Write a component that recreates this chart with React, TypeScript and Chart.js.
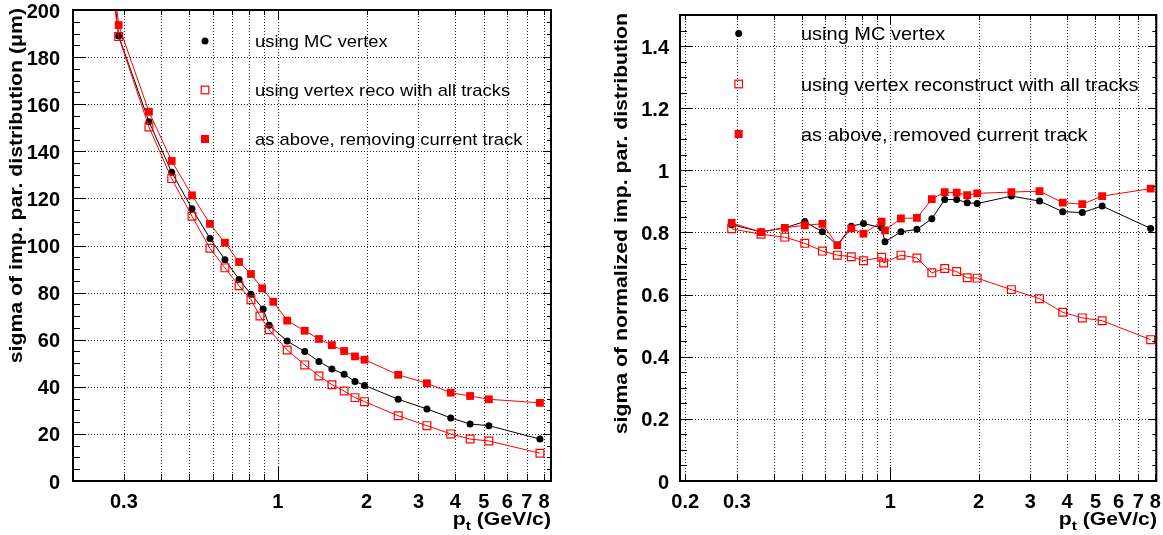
import { useEffect, useRef } from "react";
import { Chart, registerables } from "chart.js";

Chart.register(...registerables);

// ---------------- Left panel: sigma of imp. par. distribution (um) ----------------
const ptMC_L = [0.255, 0.288, 0.365, 0.436, 0.511, 0.588, 0.661, 0.738, 0.81, 0.891, 0.934, 1.075, 1.233, 1.378, 1.525, 1.678, 1.826, 1.968, 2.56, 3.204, 3.86, 4.49, 5.2, 7.75];
const ptReco_L = [0.255, 0.288, 0.365, 0.436, 0.511, 0.588, 0.661, 0.738, 0.81, 0.869, 0.934, 1.075, 1.233, 1.378, 1.525, 1.678, 1.826, 1.968, 2.56, 3.204, 3.86, 4.49, 5.2, 7.75];
const ptRemoved_L = [0.255, 0.288, 0.365, 0.436, 0.511, 0.588, 0.661, 0.738, 0.81, 0.884, 0.964, 1.075, 1.233, 1.378, 1.525, 1.678, 1.826, 1.968, 2.56, 3.204, 3.86, 4.49, 5.2, 7.75];
const sigmaMC = [247, 189.0, 152.6, 131.1, 115.6, 103.0, 94.0, 85.6, 79.3, 73.0, 66.1, 59.4, 55.0, 50.7, 47.6, 45.3, 42.3, 40.6, 34.7, 30.6, 26.8, 24.2, 23.5, 17.8];
const sigmaReco = [240, 188.7, 150.3, 128.4, 112.4, 98.8, 90.5, 82.9, 77.0, 70.1, 64.2, 55.6, 49.3, 44.6, 40.9, 38.2, 35.4, 33.7, 27.7, 23.5, 20.0, 17.8, 17.0, 11.8];
const sigmaRemoved = [253, 193.6, 156.8, 135.9, 121.3, 109.2, 101.2, 93.0, 87.9, 81.8, 76.1, 68.1, 63.8, 60.3, 57.7, 55.2, 52.9, 51.5, 45.1, 41.5, 37.5, 36.1, 34.7, 33.2];

// ---------------- Right panel: sigma of normalized imp. par. distribution ----------------
const ptMC_R = [0.288, 0.3625, 0.437, 0.511, 0.587, 0.66, 0.736, 0.81, 0.934, 0.959, 1.087, 1.232, 1.385, 1.532, 1.683, 1.828, 1.977, 2.585, 3.224, 3.868, 4.51, 5.27, 7.71];
const ptReco_R = [0.288, 0.3625, 0.437, 0.511, 0.587, 0.66, 0.736, 0.81, 0.934, 0.949, 1.087, 1.232, 1.385, 1.532, 1.683, 1.828, 1.977, 2.585, 3.224, 3.868, 4.51, 5.27, 7.71];
const ptRemoved_R = [0.288, 0.3625, 0.437, 0.511, 0.587, 0.66, 0.736, 0.81, 0.934, 0.959, 1.087, 1.232, 1.385, 1.532, 1.683, 1.828, 1.977, 2.585, 3.224, 3.868, 4.51, 5.27, 7.71];
const ratioMC = [0.825, 0.802, 0.815, 0.835, 0.802, 0.759, 0.82, 0.829, 0.815, 0.77, 0.802, 0.81, 0.844, 0.906, 0.906, 0.896, 0.893, 0.917, 0.901, 0.867, 0.864, 0.885, 0.813];
const ratioReco = [0.812, 0.794, 0.785, 0.765, 0.74, 0.727, 0.722, 0.709, 0.72, 0.702, 0.727, 0.718, 0.67, 0.684, 0.674, 0.654, 0.653, 0.616, 0.587, 0.543, 0.525, 0.516, 0.455];
const ratioRemoved = [0.831, 0.801, 0.815, 0.823, 0.828, 0.759, 0.813, 0.796, 0.835, 0.807, 0.845, 0.847, 0.907, 0.93, 0.928, 0.92, 0.926, 0.93, 0.933, 0.896, 0.891, 0.917, 0.941];

// ---------------- Axis ticks / labels ----------------
const xLabelsLeft = [0.3, 1, 2, 3, 4, 5, 6, 7, 8];
const xLabelsRight = [0.2, 0.3, 1, 2, 3, 4, 5, 6, 7, 8];
const xGridLeft = [0.3, 0.4, 0.5, 0.6, 0.7, 0.8, 0.9, 1, 2, 3, 4, 5, 6, 7, 8];
const xGridRight = [0.2, 0.3, 0.4, 0.5, 0.6, 0.7, 0.8, 0.9, 1, 2, 3, 4, 5, 6, 7, 8];
const yLabelsLeft = [0, 20, 40, 60, 80, 100, 120, 140, 160, 180, 200];
const yLabelsRight = [0, 0.2, 0.4, 0.6, 0.8, 1, 1.2, 1.4];

const legendLeft = ["using MC vertex", "using vertex reco with all tracks", "as above, removing current track"];
const legendRight = ["using MC vertex", "using vertex reconstruct with all tracks", "as above, removed current track"];

const FONT = "'Liberation Sans', Arial, Helvetica, sans-serif";
const RED = "#ff0000";

type Series = { x: number[]; y: number[]; kind: "circle" | "open" | "filled" };

type PanelCfg = {
  left: number;
  width: number;
  padTop: number;
  padRight: number;
  yAxisWidth: number;
  xMin: number;
  xMax: number;
  yMin: number;
  yMax: number;
  yMajorStep: number;
  yMinorStep: number;
  xLabels: number[];
  xGrid: number[];
  yLabels: number[];
  yTickPad: number;
  yTitle: string;
  yTitleX: number;
  yTitleTop: number;
  xTitleRight: number;
  xTitleBase: number;
  legend: string[];
  legendMarkerX: number;
  legendTextX: number;
  legendY: number[];
  legendSize: number;
  series: Series[];
};

const leftCfg: PanelCfg = {
  left: 0,
  width: 580,
  padTop: 10,
  padRight: 29,
  yAxisWidth: 73,
  xMin: 0.2016,
  xMax: 8.45,
  yMin: 0,
  yMax: 200,
  yMajorStep: 20,
  yMinorStep: 5,
  xLabels: xLabelsLeft,
  xGrid: xGridLeft,
  yLabels: yLabelsLeft,
  yTickPad: 5,
  yTitle: "sigma of imp. par. distribution (\u03bcm)",
  yTitleX: 22,
  yTitleTop: 8,
  xTitleRight: 551,
  xTitleBase: 525,
  legend: legendLeft,
  legendMarkerX: 205,
  legendTextX: 255,
  legendY: [41, 90, 139],
  legendSize: 17,
  series: [
    { x: ptMC_L, y: sigmaMC, kind: "circle" },
    { x: ptReco_L, y: sigmaReco, kind: "open" },
    { x: ptRemoved_L, y: sigmaRemoved, kind: "filled" },
  ],
};

const rightCfg: PanelCfg = {
  left: 580,
  width: 583,
  padTop: 15,
  padRight: 6,
  yAxisWidth: 100,
  xMin: 0.192,
  xMax: 8.06,
  yMin: 0,
  yMax: 1.5,
  yMajorStep: 0.2,
  yMinorStep: 0.05,
  xLabels: xLabelsRight,
  xGrid: xGridRight,
  yLabels: yLabelsRight,
  yTickPad: 3,
  yTitle: "sigma of normalized imp. par. distribution",
  yTitleX: 47,
  yTitleTop: 13,
  xTitleRight: 577,
  xTitleBase: 525,
  legend: legendRight,
  legendMarkerX: 158.7,
  legendTextX: 221,
  legendY: [33.5, 84, 134],
  legendSize: 18.5,
  series: [
    { x: ptMC_R, y: ratioMC, kind: "circle" },
    { x: ptReco_R, y: ratioReco, kind: "open" },
    { x: ptRemoved_R, y: ratioRemoved, kind: "filled" },
  ],
};

function drawMarker(ctx: CanvasRenderingContext2D, kind: string, x: number, y: number) {
  ctx.save();
  ctx.setLineDash([]);
  if (kind === "circle") {
    ctx.fillStyle = "#000";
    ctx.beginPath();
    ctx.arc(x, y, 3.5, 0, Math.PI * 2);
    ctx.fill();
  } else if (kind === "open") {
    ctx.strokeStyle = RED;
    ctx.lineWidth = 1.2;
    ctx.strokeRect(x - 3.8, y - 3.8, 7.6, 7.6);
  } else {
    ctx.fillStyle = RED;
    ctx.fillRect(x - 4, y - 4, 8, 8);
  }
  ctx.restore();
}

const STRETCH = 1.18;
const LEGEND_STRETCH = 1.08;

function Panel({ cfg }: { cfg: PanelCfg }) {
  const ref = useRef<HTMLCanvasElement>(null);
  useEffect(() => {
    const canvas = ref.current!;
    const plugin = {
      id: "rootStyle",
      beforeDatasetsDraw(chart: any) {
        const { ctx, chartArea: a } = chart;
        const xs = chart.scales.x;
        const ys = chart.scales.y;
        ctx.save();
        ctx.beginPath();
        ctx.rect(a.left, a.top, a.right - a.left, a.bottom - a.top);
        ctx.clip();
        ctx.strokeStyle = "#222";
        ctx.lineWidth = 1;
        ctx.setLineDash([1, 2]);
        cfg.xGrid.forEach((v) => {
          const p = Math.round(xs.getPixelForValue(v)) + 0.5;
          ctx.beginPath();
          ctx.moveTo(p, a.top);
          ctx.lineTo(p, a.bottom);
          ctx.stroke();
        });
        cfg.yLabels.forEach((v) => {
          const p = Math.round(ys.getPixelForValue(v)) + 0.5;
          ctx.beginPath();
          ctx.moveTo(a.left, p);
          ctx.lineTo(a.right, p);
          ctx.stroke();
        });
        ctx.restore();
      },
      afterDatasetsDraw(chart: any) {
        const { ctx, chartArea: a } = chart;
        const xs = chart.scales.x;
        const ys = chart.scales.y;
        ctx.save();
        ctx.setLineDash([]);
        ctx.strokeStyle = "#000";
        ctx.lineWidth = 1;
        ctx.beginPath();
        const n = Math.round((cfg.yMax - cfg.yMin) / cfg.yMinorStep);
        for (let i = 0; i <= n; i++) {
          const v = cfg.yMin + i * cfg.yMinorStep;
          const p = Math.round(ys.getPixelForValue(v)) + 0.5;
          const r = v / cfg.yMajorStep;
          const major = Math.abs(r - Math.round(r)) < 1e-6;
          ctx.moveTo(a.left, p);
          ctx.lineTo(a.left + (major ? 13 : 7), p);
          ctx.moveTo(a.right, p);
          ctx.lineTo(a.right - (major ? 8 : 4), p);
        }
        cfg.xGrid.forEach((v) => {
          const p = Math.round(xs.getPixelForValue(v)) + 0.5;
          const major = v === 1;
          ctx.moveTo(p, a.bottom);
          ctx.lineTo(p, a.bottom - (major ? 14 : 7));
          ctx.moveTo(p, a.top);
          ctx.lineTo(p, a.top + (major ? 9 : 5));
        });
        ctx.stroke();
        ctx.lineWidth = 2;
        ctx.strokeRect(a.left, a.top, a.right - a.left, a.bottom - a.top);
        ctx.restore();

        // legend
        ctx.save();
        ctx.fillStyle = "#000";
        ctx.font = `${cfg.legendSize}px ${FONT}`;
        ctx.textAlign = "left";
        ctx.textBaseline = "alphabetic";
        cfg.series.forEach((s, i) => {
          const y = cfg.legendY[i];
          drawMarker(ctx, s.kind, cfg.legendMarkerX, y);
          ctx.save();
          ctx.translate(cfg.legendTextX, y + cfg.legendSize * 0.36);
          ctx.scale(LEGEND_STRETCH, 1);
          ctx.fillText(cfg.legend[i], 0, 0);
          ctx.restore();
        });
        ctx.restore();
      },
      afterDraw(chart: any) {
        const { ctx } = chart;
        ctx.save();
        ctx.fillStyle = "#000";
        // y title
        ctx.save();
        ctx.font = `bold 18px ${FONT}`;
        ctx.translate(cfg.yTitleX, cfg.yTitleTop);
        ctx.rotate(-Math.PI / 2);
        ctx.scale(STRETCH, 1);
        ctx.textAlign = "right";
        ctx.textBaseline = "alphabetic";
        ctx.fillText(cfg.yTitle, 0, 0);
        ctx.restore();
        // x title p_t (GeV/c)
        ctx.save();
        ctx.textAlign = "left";
        ctx.textBaseline = "alphabetic";
        ctx.font = `bold 18px ${FONT}`;
        const wp = ctx.measureText("p").width;
        const rest = " (GeV/c)";
        const wr = ctx.measureText(rest).width;
        ctx.font = `bold 13px ${FONT}`;
        const wt = ctx.measureText("t").width;
        const total = (wp + wt + wr) * STRETCH;
        ctx.translate(cfg.xTitleRight - total, cfg.xTitleBase);
        ctx.scale(STRETCH, 1);
        ctx.font = `bold 18px ${FONT}`;
        ctx.fillText("p", 0, 0);
        ctx.font = `bold 13px ${FONT}`;
        ctx.fillText("t", wp, 5);
        ctx.font = `bold 18px ${FONT}`;
        ctx.fillText(rest, wp + wt, 0);
        ctx.restore();
        ctx.restore();
      },
    };

    const datasets = cfg.series.map((s) => {
      const isBlack = s.kind === "circle";
      return {
        label: s.kind,
        data: s.x.map((x, i) => ({ x, y: s.y[i] })),
        borderColor: isBlack ? "#000" : RED,
        borderWidth: 1,
        pointStyle: isBlack ? "circle" : "rect",
        pointRadius: isBlack ? 3.5 : 5.5,
        pointBackgroundColor: isBlack ? "#000" : s.kind === "filled" ? RED : "rgba(0,0,0,0)",
        pointBorderColor: isBlack ? "#000" : RED,
        pointBorderWidth: s.kind === "open" ? 1.2 : 0,
        tension: 0,
        fill: false,
        order: isBlack ? 3 : s.kind === "open" ? 2 : 1,
      };
    });

    const tickFont = { family: FONT, size: 20, weight: "bold" as const };

    const chart = new Chart(canvas, {
      type: "line",
      data: { datasets },
      options: {
        responsive: false,
        animation: false,
        events: [],
        layout: { padding: { left: 0, top: cfg.padTop, right: cfg.padRight, bottom: 0 } },
        plugins: { legend: { display: false }, tooltip: { enabled: false } },
        scales: {
          x: {
            type: "logarithmic",
            min: cfg.xMin,
            max: cfg.xMax,
            grid: { display: false },
            border: { display: false },
            afterBuildTicks: (s: any) => {
              s.ticks = cfg.xLabels.map((v) => ({ value: v }));
            },
            afterFit: (s: any) => {
              s.height = 54;
              s.paddingLeft = 0;
              s.paddingRight = 0;
            },
            ticks: {
              autoSkip: false,
              maxRotation: 0,
              minRotation: 0,
              padding: 1,
              color: "#000",
              font: tickFont,
              callback: (v: any) => String(v),
            },
          },
          y: {
            type: "linear",
            min: cfg.yMin,
            max: cfg.yMax,
            grid: { display: false },
            border: { display: false },
            afterBuildTicks: (s: any) => {
              s.ticks = cfg.yLabels.map((v) => ({ value: v }));
            },
            afterFit: (s: any) => {
              s.width = cfg.yAxisWidth;
              s.paddingTop = 0;
              s.paddingBottom = 0;
            },
            ticks: {
              padding: cfg.yTickPad,
              labelOffset: 2,
              color: "#000",
              font: tickFont,
              callback: (v: any) => String(Math.round(Number(v) * 10) / 10),
            },
          },
        },
      },
      plugins: [plugin],
    } as any);
    return () => chart.destroy();
  }, [cfg]);
  return (
    <canvas
      ref={ref}
      width={cfg.width}
      height={535}
      style={{ position: "absolute", left: cfg.left, top: 0, width: cfg.width, height: 535 }}
    />
  );
}

export default function App() {
  return (
    <div style={{ position: "absolute", left: 0, top: 0, width: 1163, height: 535, background: "#fff" }}>
      <Panel cfg={leftCfg} />
      <Panel cfg={rightCfg} />
    </div>
  );
}
